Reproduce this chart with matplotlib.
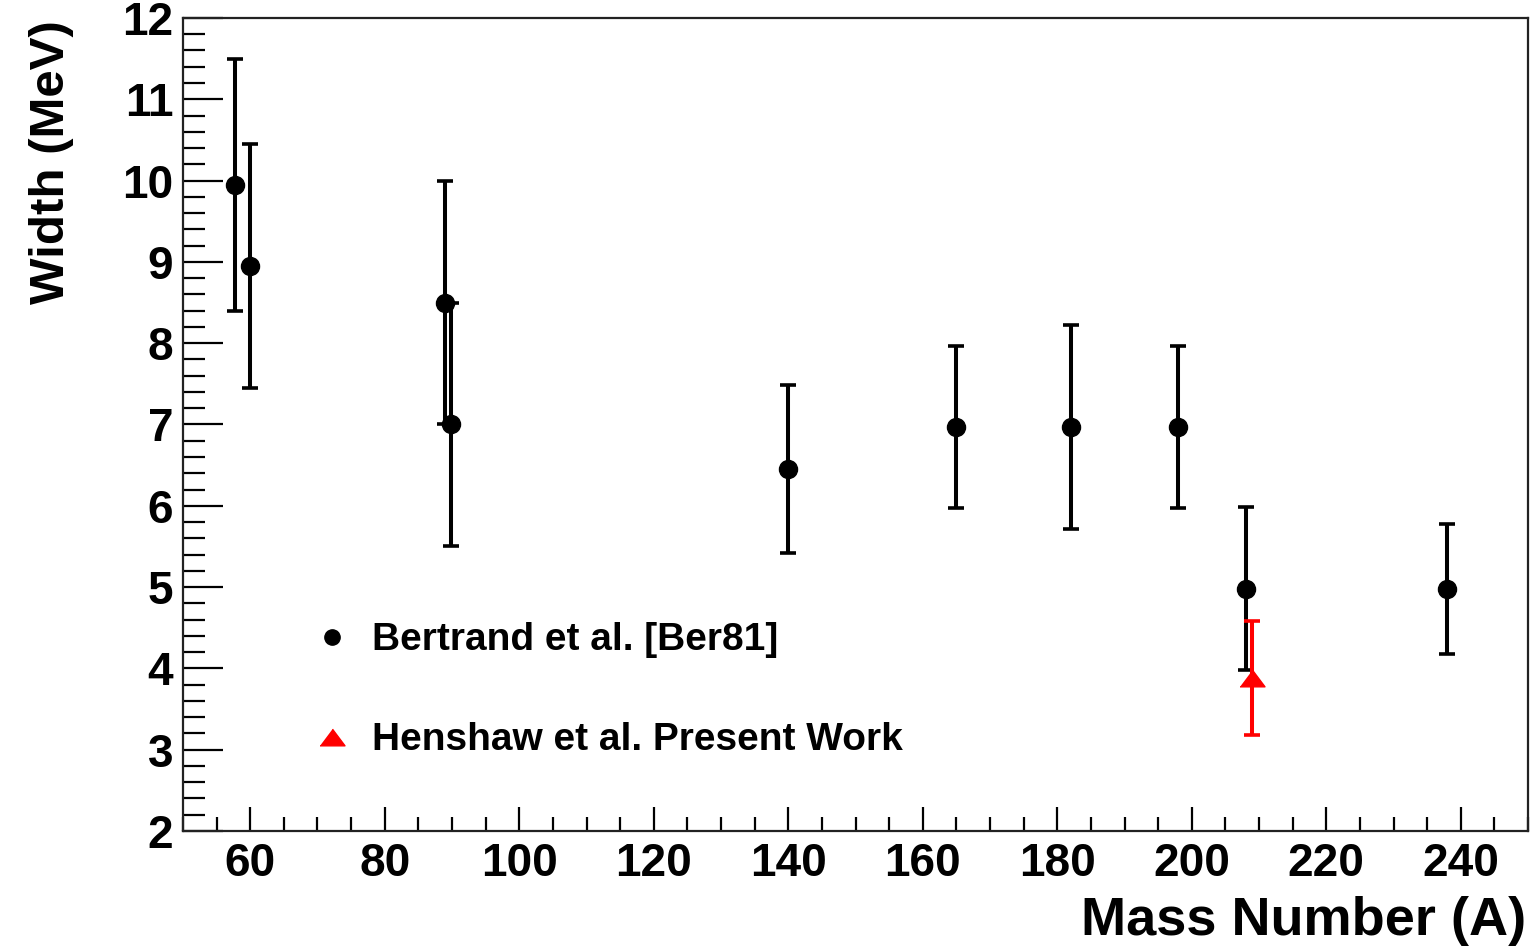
import matplotlib
matplotlib.use("Agg")
import matplotlib.pyplot as plt
from matplotlib.lines import Line2D
from matplotlib.ticker import MultipleLocator

plt.rcParams['font.family'] = ['Liberation Sans', 'DejaVu Sans']
plt.rcParams['font.weight'] = 'bold'

# Bertrand et al. [Ber81]: giant resonance widths vs mass number
ber_mass = [57.7, 59.9, 88.9, 89.8, 140, 165, 182, 198, 208, 238]
ber_width = [9.95, 8.95, 8.5, 7.0, 6.45, 6.97, 6.97, 6.97, 4.98, 4.98]
ber_err = [1.55, 1.5, 1.5, 1.5, 1.03, 1.0, 1.25, 1.0, 1.0, 0.8]

# Henshaw et al., present work
hen_mass = [209]
hen_width = [3.88]
hen_err = [0.7]

legend_labels = ["Bertrand et al. [Ber81]", "Henshaw et al. Present Work"]

fig = plt.figure(figsize=(15.39, 9.46), dpi=100)
ax = fig.add_axes([0.1189, 0.1216, 0.8740, 0.8594])

ax.errorbar(ber_mass, ber_width, yerr=ber_err, fmt='o', color='black',
            ms=13, elinewidth=2.9, capsize=5.5, capthick=2.6, zorder=3)

tri = [(-0.75, -0.5), (0.75, -0.5), (0.0, 0.5)]
ax.errorbar(hen_mass, hen_width, yerr=hen_err, fmt='none', ecolor='red',
            elinewidth=2.9, capsize=5.5, capthick=2.6, zorder=4)
ax.plot(hen_mass, hen_width, linestyle='none', marker=tri, ms=18,
        color='red', mec='red', zorder=5)

ax.set_xlim(50, 250)
ax.set_ylim(2, 12)
ax.xaxis.set_major_locator(MultipleLocator(20))
ax.xaxis.set_minor_locator(MultipleLocator(5))
ax.yaxis.set_major_locator(MultipleLocator(1))
ax.yaxis.set_minor_locator(MultipleLocator(0.2))

ax.tick_params(axis='both', which='both', direction='in', top=False, right=False,
               width=1.6, color='black')
ax.tick_params(axis='x', which='major', length=17.5, pad=8, labelsize=33)
ax.tick_params(axis='x', which='minor', length=10)
ax.tick_params(axis='y', which='major', length=28.5, pad=7, labelsize=33)
ax.tick_params(axis='y', which='minor', length=16)
for lab in ax.get_xticklabels() + ax.get_yticklabels():
    lab.set_fontweight('bold')
for sp in ax.spines.values():
    sp.set_linewidth(1.6)
    sp.set_color('#222222')

fig.text(1526 / 1539, 11 / 946, "Mass Number (A)", ha='right', va='baseline',
         fontsize=39, fontweight='bold')
fig.text(64 / 1539, 1 - 20 / 946, "Width (MeV)", rotation=90, rotation_mode='anchor',
         ha='right', va='baseline', fontsize=35.5, fontweight='bold')

handles = [
    Line2D([], [], linestyle='none', marker='o', color='black', ms=11),
    Line2D([], [], linestyle='none', marker=tri, color='red', ms=18),
]
ax.legend(handles, legend_labels, loc='upper left', bbox_to_anchor=(0.085, 0.276),
          frameon=False, prop={'size': 28, 'weight': 'bold'}, handlelength=1.0,
          handletextpad=0.52, labelspacing=1.65, borderaxespad=0)

fig.savefig("out.png", dpi=100)
